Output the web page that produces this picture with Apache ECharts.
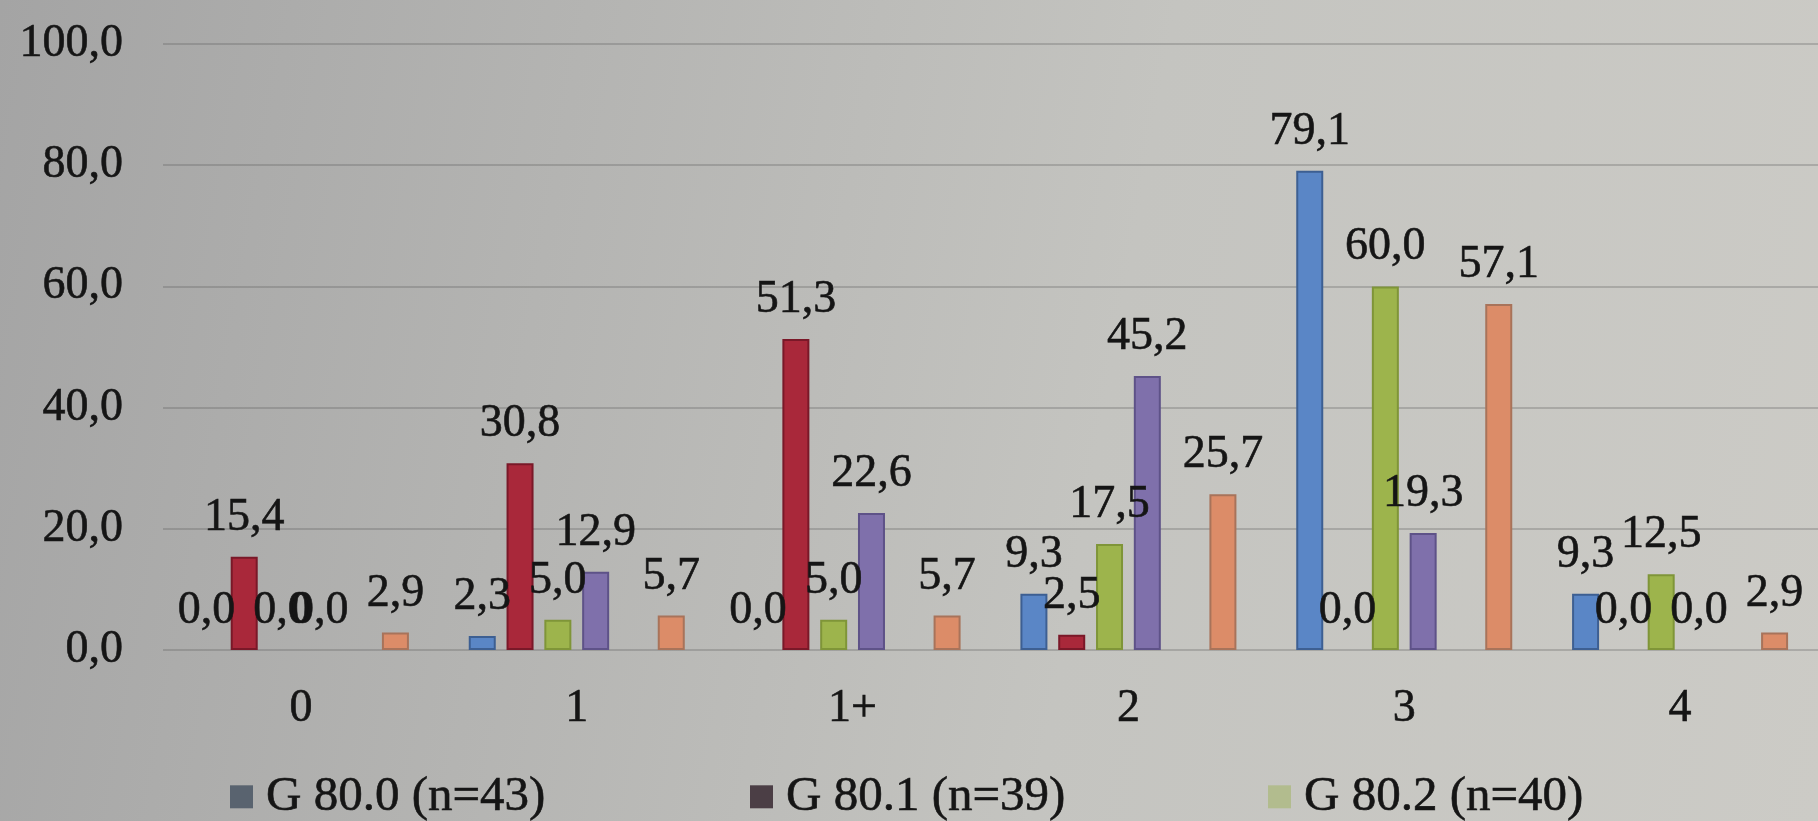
<!DOCTYPE html>
<html>
<head>
<meta charset="utf-8">
<script src="https://cdn.jsdelivr.net/npm/echarts@6/dist/echarts.min.js"></script>
<style>
  html, body { margin: 0; padding: 0; }
  #chart {
    width: 1818px; height: 821px;
    background: linear-gradient(100deg, #a4a4a4 0%, #b4b4b2 30%, #c4c4c0 60%, #cccbc6 100%);
  }
</style>
</head>
<body>
<div id="chart"></div>
<script>
// Score groups on the category axis
const categories = ['0', '1', '1+', '2', '3', '4'];

// Share of patients (%) per group
const g800 = [0.0, 2.3, 0.0, 9.3, 79.1, 9.3];
const g801 = [15.4, 30.8, 51.3, 2.5, 0.0, 0.0];
const g802 = [0.0, 5.0, 5.0, 17.5, 60.0, 12.5];
const g803 = [0.0, 12.9, 22.6, 45.2, 19.3, 0.0];
const gNone = [null, null, null, null, null, null];
const g808 = [2.9, 5.7, 5.7, 25.7, 57.1, 2.9];

const yTicks = [0, 20, 40, 60, 80, 100];

const FONT = '"Liberation Serif", "Times New Roman", serif';
const INK = '#151515';

const comma = v => v.toFixed(1).replace('.', ',');

function bars(name, values, fill, edge, labelled) {
  return {
    name: name,
    type: 'bar',
    barWidth: 27,
    barGap: '40%',
    data: values.map(v => v === null ? '-' : {
      value: v,
      itemStyle: { borderWidth: v === 0 ? 0 : 2 }
    }),
    itemStyle: { color: fill, borderColor: edge, borderWidth: 2 },
    label: {
      show: labelled,
      position: 'top',
      distance: 16,
      fontFamily: FONT,
      fontSize: 46,
      color: INK,
      textBorderColor: INK,
      textBorderWidth: 0.6,
      formatter: p => comma(p.value)
    },
    emphasis: { disabled: true }
  };
}

function legendAt(left, name, color) {
  return {
    left: left,
    top: 772,
    padding: 0,
    itemWidth: 23,
    itemHeight: 23,
    selectedMode: false,
    icon: 'rect',
    data: [{ name: name, itemStyle: { color: color, borderWidth: 0 } }],
    textStyle: {
      fontFamily: FONT, fontSize: 49, color: INK, padding: [0, 0, 0, 8],
      textBorderColor: INK, textBorderWidth: 0.6
    }
  };
}

const chart = echarts.init(document.getElementById('chart'), null, { renderer: 'canvas' });

chart.setOption({
  animation: false,
  backgroundColor: 'transparent',
  legend: [
    legendAt(230, 'G 80.0 (n=43)', '#59636f'),
    legendAt(750, 'G 80.1 (n=39)', '#4b3e45'),
    legendAt(1268, 'G 80.2 (n=40)', '#b2bc8e')
  ],
  grid: { left: 163, width: 1668, top: 44, height: 606, containLabel: false },
  xAxis: {
    type: 'category',
    data: categories,
    axisLine: { show: false },
    axisTick: { show: false },
    axisLabel: {
      fontFamily: FONT, fontSize: 46, color: INK, margin: 36,
      textBorderColor: INK, textBorderWidth: 0.6
    }
  },
  yAxis: {
    type: 'value',
    min: yTicks[0],
    max: yTicks[yTicks.length - 1],
    interval: yTicks[1] - yTicks[0],
    axisLine: { show: false },
    axisTick: { show: false },
    axisLabel: {
      fontFamily: FONT, fontSize: 46, color: INK, margin: 40,
      textBorderColor: INK, textBorderWidth: 0.6,
      formatter: v => comma(v)
    },
    splitLine: { lineStyle: { color: 'rgba(85,85,85,0.28)', width: 2 } }
  },
  series: [
    bars('G 80.0 (n=43)', g800, '#5a86c6', '#3d5f92', true),
    bars('G 80.1 (n=39)', g801, '#a9283a', '#7a1828', true),
    bars('G 80.2 (n=40)', g802, '#9db44c', '#7f9538', true),
    bars('G 80.3 (n=31)', g803, '#7f70ab', '#5e5288', true),
    bars('G 80.4', gNone, '#4bacc6', '#3a8aa0', false),
    bars('G 80.8 (n=35)', g808, '#dc8c68', '#a8735a', true)
  ]
});
</script>
</body>
</html>
